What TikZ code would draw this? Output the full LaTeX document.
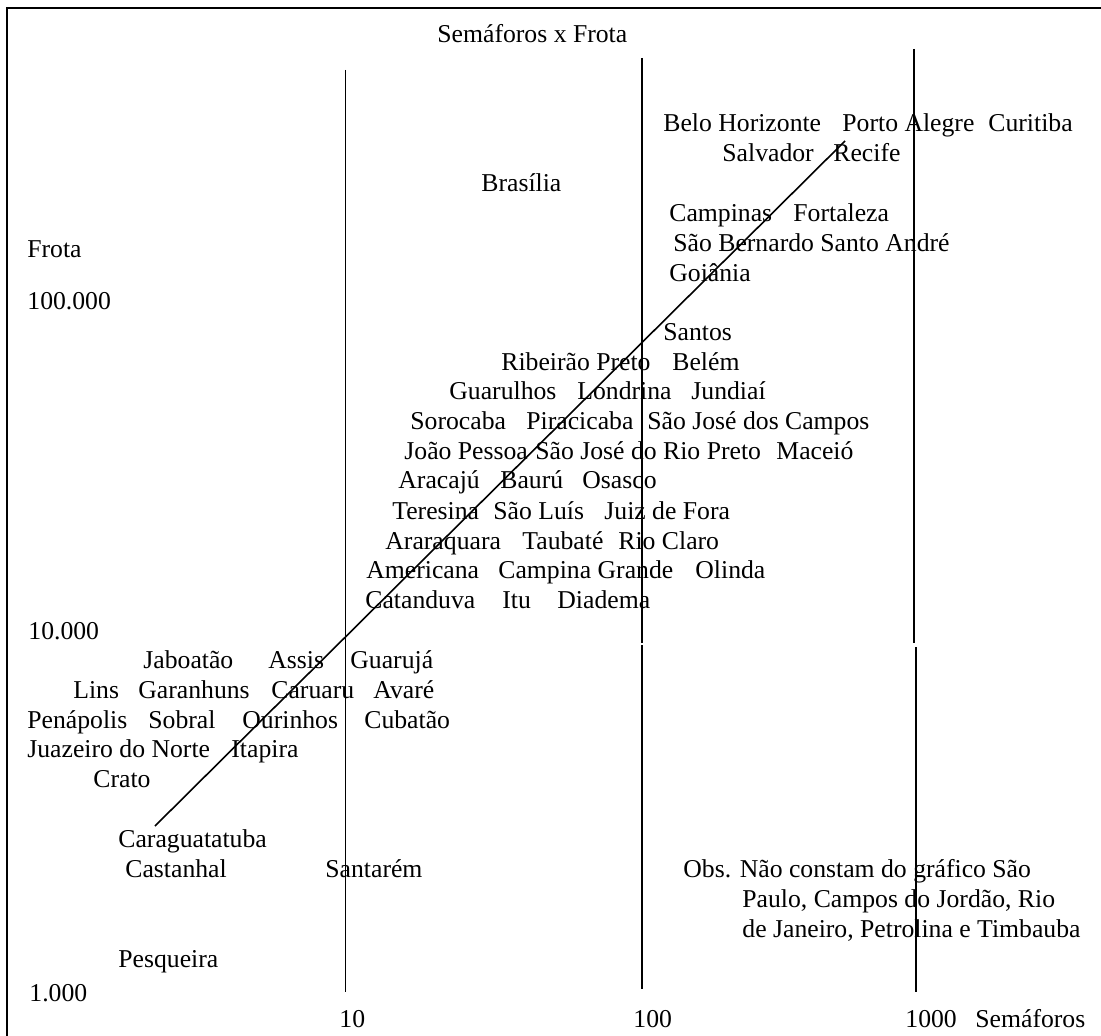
\documentclass[tikz,border=0pt]{standalone}
\usepackage{fontspec}
\setmainfont{Liberation Serif}
\usetikzlibrary{positioning}

\begin{document}
\begin{tikzpicture}[x=0.5pt, y=-0.5pt,
  lbl/.style = {anchor=base west, inner sep=0pt, font=\fontsize{12.85}{15}\selectfont},
  axis/.style = {line width=0.8pt}]
\useasboundingbox (0,0) rectangle (1101,1036);
% page frame
\coordinate (fr) at (1101,8);
\coordinate (fc) at (7,8);
\coordinate (fb) at (7,1036);
\draw[line width=1.1pt] (fr) -- (fc) -- (fb);

% vertical lines 10, 100, 1000
\coordinate (t10) at (345.5,70);
\coordinate (b10) at (345.5,992);
\coordinate (t100) at (642,58);
\coordinate (m100) at (642,643);
\coordinate (n100) at (642,645);
\coordinate (b100) at (642,989);
\coordinate (t1000) at (914,49);
\coordinate (m1000) at (914,643);
\coordinate (n1000) at (916,647);
\coordinate (b1000) at (916,992);
\draw[axis] (t10) -- (b10);
\draw[axis] (t100) -- (m100);
\draw[axis] (n100) -- (b100);
\draw[axis] (t1000) -- (m1000);
\draw[axis] (n1000) -- (b1000);

% trend line
\coordinate (low) at (155,826);
\coordinate (high) at (845,141);
\draw[axis] (low) -- (high);

% titles and axes
\node[lbl] (title) at (437,43) {Semáforos x Frota};
\node[lbl] (frota) at (27,258) {Frota};
\node[lbl] (y5) at (27,310) {100.000};
\node[lbl] (y4) at (28,639) {10.000};
\node[lbl] (y3) at (29,1001) {1.000};
\node[lbl] (x1) at (339,1027) {10};
\node[lbl] (x2) at (633,1027) {100};
\node[lbl] (x3) at (905,1027) {1000};
\node[lbl] (semaf) at (975,1027) {Semáforos};

% cities
\foreach \x/\y/\name [count=\i] in {
  663/132/Belo Horizonte, 842/132/Porto Alegre, 988/132/Curitiba,
  722/162/Salvador, 833/162/Recife,
  481/192/Brasília,
  669/222/Campinas, 793/222/Fortaleza,
  673/252/São Bernardo Santo André,
  669/282/Goiânia,
  663/341/Santos,
  501/371/Ribeirão Preto, 672/371/Belém,
  449/400/Guarulhos, 577/400/Londrina, 691/400/Jundiaí,
  410/430/Sorocaba, 526/430/Piracicaba, 647/430/São José dos Campos,
  404/460/João Pessoa, 535/460/São José do Rio Preto, 776/460/Maceió,
  398/489/Aracajú, 500/489/Baurú, 582/489/Osasco,
  392/519/Teresina, 493/519/São Luís, 604/519/Juiz de Fora,
  385/549/Araraquara, 522/549/Taubaté, 618/549/Rio Claro,
  366/578/Americana, 498/578/Campina Grande, 695/578/Olinda,
  365/608/Catanduva, 502/608/Itu, 557/608/Diadema,
  143/668/Jaboatão, 268/668/Assis, 350/668/Guarujá,
  73/698/Lins, 138/698/Garanhuns, 271/698/Caruaru, 373/698/Avaré,
  27/728/Penápolis, 148/728/Sobral, 242/728/Ourinhos, 364/728/Cubatão,
  27/757/Juazeiro do Norte, 231/757/Itapira,
  93/787/Crato,
  118/847/Caraguatatuba,
  125/877/Castanhal, 325/877/Santarém,
  118/967/Pesqueira}
  \node[lbl] (city\i) at (\x,\y) {\name};

% note
\node[lbl] (obs1) at (683,877) {Obs. Não constam do gráfico São};
\node[lbl] (obs2) at (742,907) {Paulo, Campos do Jordão, Rio};
\node[lbl] (obs3) at (742,937) {de Janeiro, Petrolina e Timbauba};
\end{tikzpicture}
\end{document}
